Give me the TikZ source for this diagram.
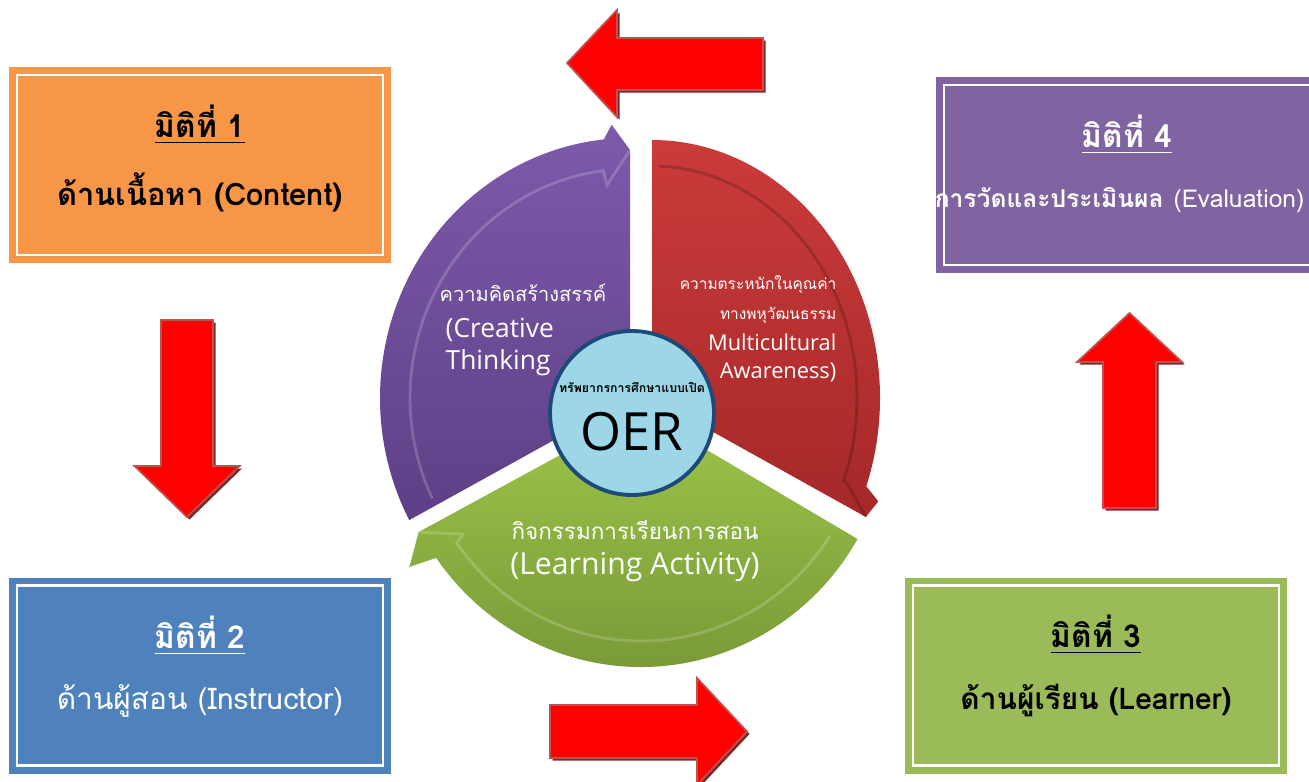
\documentclass[tikz,border=0pt]{standalone}
\usepackage{fontspec}
\newfontfamily\thaifont[Script=Thai]{Loma}
\newfontfamily\latinfont{Open Sans}
\usepackage{tikz}
\usetikzlibrary{positioning}

\definecolor{boxorange}{HTML}{F79646}
\definecolor{boxblue}{HTML}{4F81BD}
\definecolor{boxgreen}{HTML}{9BBB59}
\definecolor{boxpurple}{HTML}{8064A2}
\definecolor{arrowred}{HTML}{FF0000}
\definecolor{arrowedge}{HTML}{C0504D}
\definecolor{arrowshade}{HTML}{7A2A2A}
\definecolor{purpletop}{HTML}{7D5AAB}
\definecolor{purplebot}{HTML}{5E3F86}
\definecolor{redtop}{HTML}{CB3B3B}
\definecolor{redbot}{HTML}{A52828}
\definecolor{greentop}{HTML}{9CC64A}
\definecolor{greenbot}{HTML}{7A9A38}
\definecolor{oertop}{HTML}{9DD6E6}
\definecolor{oermid}{HTML}{4BAEC8}
\definecolor{oerborder}{HTML}{1D4A78}

\tikzset{
  dimbox/.style={minimum width=3.82cm, minimum height=1.96cm, inner sep=0pt,
    path picture={\draw[white, line width=0.7pt]
      ([shift={(0.08,0.08)}]path picture bounding box.south west) rectangle
      ([shift={(-0.08,-0.08)}]path picture bounding box.north east);}},
  dimtitle/.style={inner sep=0pt, font=\thaifont\bfseries\fontsize{9}{11}\selectfont},
  dimtext/.style={inner sep=0pt, font=\thaifont\fontsize{8.5}{10}\selectfont},
  blockarrow/.style={fill=arrowred, draw=arrowedge, line width=0.5pt},
  arrowshadow/.style={fill=arrowshade},
  ringlight/.style={draw=white, draw opacity=0.18, line width=0.8pt},
  ringdark/.style={draw=black, draw opacity=0.18, line width=0.8pt},
  segthai/.style={inner sep=0pt, text=white, font=\thaifont\fontsize{5.7}{7}\selectfont},
  seglatin/.style={inner sep=0pt, text=white, font=\latinfont\fontsize{7.5}{9}\selectfont},
}

\begin{document}
\begin{tikzpicture}
\useasboundingbox (0,0) rectangle (13.09,7.81);
\clip (0,0) rectangle (13.09,7.81);
\fill[white] (0,0) rectangle (13.09,7.81);

% the four boxes
\node[dimbox, fill=boxorange] (dim1) at (2.00,6.16) {};
\node[dimtitle] (dim1title) at ([yshift=0.40cm]dim1.center) {\underline{มิติที่ 1}};
\node[dimtext, font=\thaifont\bfseries\fontsize{8.8}{10}\selectfont] (dim1text) at ([yshift=-0.27cm]dim1.center) {ด้านเนื้อหา (Content)};

\node[dimbox, fill=boxblue] (dim2) at (2.00,1.055) {};
\node[dimtitle, text=white] (dim2title) at ([yshift=0.40cm]dim2.center) {\underline{มิติที่ 2}};
\node[dimtext, text=white] (dim2text) at ([yshift=-0.25cm]dim2.center) {ด้านผู้สอน (Instructor)};

\node[dimbox, fill=boxgreen] (dim3) at (10.96,1.055) {};
\node[dimtitle] (dim3title) at ([yshift=0.41cm]dim3.center) {\underline{มิติที่ 3}};
\node[dimtext, font=\thaifont\bfseries\fontsize{8.5}{10}\selectfont] (dim3text) at ([yshift=-0.25cm]dim3.center) {ด้านผู้เรียน (Learner)};

\node[dimbox, fill=boxpurple] (dim4) at (11.27,6.06) {};
\node[dimtitle, text=white] (dim4title) at ([yshift=0.40cm]dim4.center) {\underline{มิติที่ 4}};
\node[dimtext, text=white, anchor=east] (dim4text) at (13.05,5.81) {{\bfseries\fontsize{7}{9}\selectfont การวัดและประเมินผล} {\fontsize{7}{9}\selectfont(Evaluation)}};

% red block arrows
\fill[arrowshadow, shift={(0.025,-0.025)}] (5.67,7.18) -- (6.17,7.71) -- (6.17,7.43) -- (7.63,7.43) -- (7.63,6.91) -- (6.17,6.91) -- (6.17,6.64) -- cycle;
\draw[blockarrow] (5.67,7.18) -- (6.17,7.71) -- (6.17,7.43) -- (7.63,7.43) -- (7.63,6.91) -- (6.17,6.91) -- (6.17,6.64) -- cycle;
\fill[arrowshadow, shift={(0.025,-0.025)}] (1.61,4.61) -- (2.13,4.61) -- (2.13,3.15) -- (2.395,3.15) -- (1.87,2.64) -- (1.345,3.15) -- (1.61,3.15) -- cycle;
\draw[blockarrow] (1.61,4.61) -- (2.13,4.61) -- (2.13,3.15) -- (2.395,3.15) -- (1.87,2.64) -- (1.345,3.15) -- (1.61,3.15) -- cycle;
\fill[arrowshadow, shift={(0.025,-0.025)}] (11.03,2.73) -- (11.56,2.73) -- (11.56,4.19) -- (11.82,4.19) -- (11.295,4.68) -- (10.77,4.19) -- (11.03,4.19) -- cycle;
\draw[blockarrow] (11.03,2.73) -- (11.56,2.73) -- (11.56,4.19) -- (11.82,4.19) -- (11.295,4.68) -- (10.77,4.19) -- (11.03,4.19) -- cycle;
\fill[arrowshadow, shift={(0.025,-0.025)}] (5.50,0.23) -- (5.50,0.76) -- (6.97,0.76) -- (6.97,1.03) -- (7.47,0.495) -- (6.97,-0.04) -- (6.97,0.23) -- cycle;
\draw[blockarrow] (5.50,0.23) -- (5.50,0.76) -- (6.97,0.76) -- (6.97,1.03) -- (7.47,0.495) -- (6.97,-0.04) -- (6.97,0.23) -- cycle;

% cycle: purple segment
\begin{scope}[shift={(6.30,3.83)}]
\shade[top color=purpletop, bottom color=purplebot] (0,0) -- (208:2.50cm and 2.60cm)
  arc[start angle=208, end angle=96, x radius=2.50cm, y radius=2.60cm]
  -- (94:2.64cm and 2.74cm) -- (90:2.50cm and 2.48cm) -- cycle;
\draw[ringlight] (90:2.50cm and 2.48cm) -- (96:2.20cm and 2.14cm) -- (97:2.20cm and 2.29cm)
  arc[start angle=97, end angle=206, x radius=2.20cm, y radius=2.29cm];
\end{scope}
% red segment
\begin{scope}[shift={(6.52,3.83)}]
\shade[top color=redtop, bottom color=redbot] (0,0) -- (90:2.28cm and 2.58cm)
  arc[start angle=90, end angle=-20, x radius=2.28cm, y radius=2.58cm]
  -- (-22:2.44cm and 2.76cm) -- (-27:2.40cm and 2.62cm) -- cycle;
\draw[ringdark] (-27:2.40cm and 2.62cm) -- (-22:2.10cm and 2.27cm) -- (-21:2.05cm and 2.32cm)
  arc[start angle=-21, end angle=88, x radius=2.05cm, y radius=2.32cm];
\end{scope}
% green segment
\begin{scope}[shift={(6.41,3.70)}]
\shade[top color=greentop, bottom color=greenbot] (0,0) -- (-30:2.50cm and 2.56cm)
  arc[start angle=-30, end angle=-145, x radius=2.50cm, y radius=2.56cm]
  -- (-147:2.76cm and 2.86cm) -- (-152:2.52cm and 2.58cm) -- cycle;
\draw[ringlight] (-152:2.52cm and 2.58cm) -- (-146:2.15cm and 2.20cm) -- (-145:2.25cm and 2.30cm)
  arc[start angle=-145, end angle=-33, x radius=2.25cm, y radius=2.30cm];
\end{scope}

% segment labels
\node[segthai] (creathai) at (5.23,4.88) {ความคิดสร้างสรรค์};
\node[seglatin, anchor=west] (crea1) at (4.45,4.51) {(Creative};
\node[seglatin, anchor=west] (crea2) at (4.45,4.18) {Thinking};
\node[segthai, anchor=east, font=\thaifont\fontsize{4.4}{5}\selectfont] (multithai1) at (8.37,4.96) {ความตระหนักในคุณค่า};
\node[segthai, anchor=east, font=\thaifont\fontsize{4.4}{5}\selectfont] (multithai2) at (8.37,4.66) {ทางพหุวัฒนธรรม};
\node[seglatin, anchor=east, font=\latinfont\fontsize{6.2}{7}\selectfont] (multi1) at (8.37,4.39) {Multicultural};
\node[seglatin, anchor=east, font=\latinfont\fontsize{6.2}{7}\selectfont] (multi2) at (8.37,4.09) {Awareness)};
\node[segthai, font=\thaifont\fontsize{6.4}{8}\selectfont] (learnthai) at (6.35,2.51) {กิจกรรมการเรียนการสอน};
\node[seglatin, font=\latinfont\fontsize{8.6}{10}\selectfont] (learn) at (6.35,2.14) {(Learning Activity)};

% centre
\node[circle, minimum size=1.64cm, inner sep=0pt, draw=oerborder, line width=1.1pt,
  top color=oertop, middle color=oermid, bottom color=oertop] (oer) at (6.32,3.68) {};
\node[inner sep=0pt, font=\thaifont\bfseries\fontsize{3.5}{4}\selectfont] (oerthai) at (6.32,3.94) {ทรัพยากรการศึกษาแบบเปิด};
\node[inner sep=0pt, font=\latinfont\fontsize{15}{17}\selectfont] (oerlabel) at (6.32,3.49) {OER};
\end{tikzpicture}
\end{document}
